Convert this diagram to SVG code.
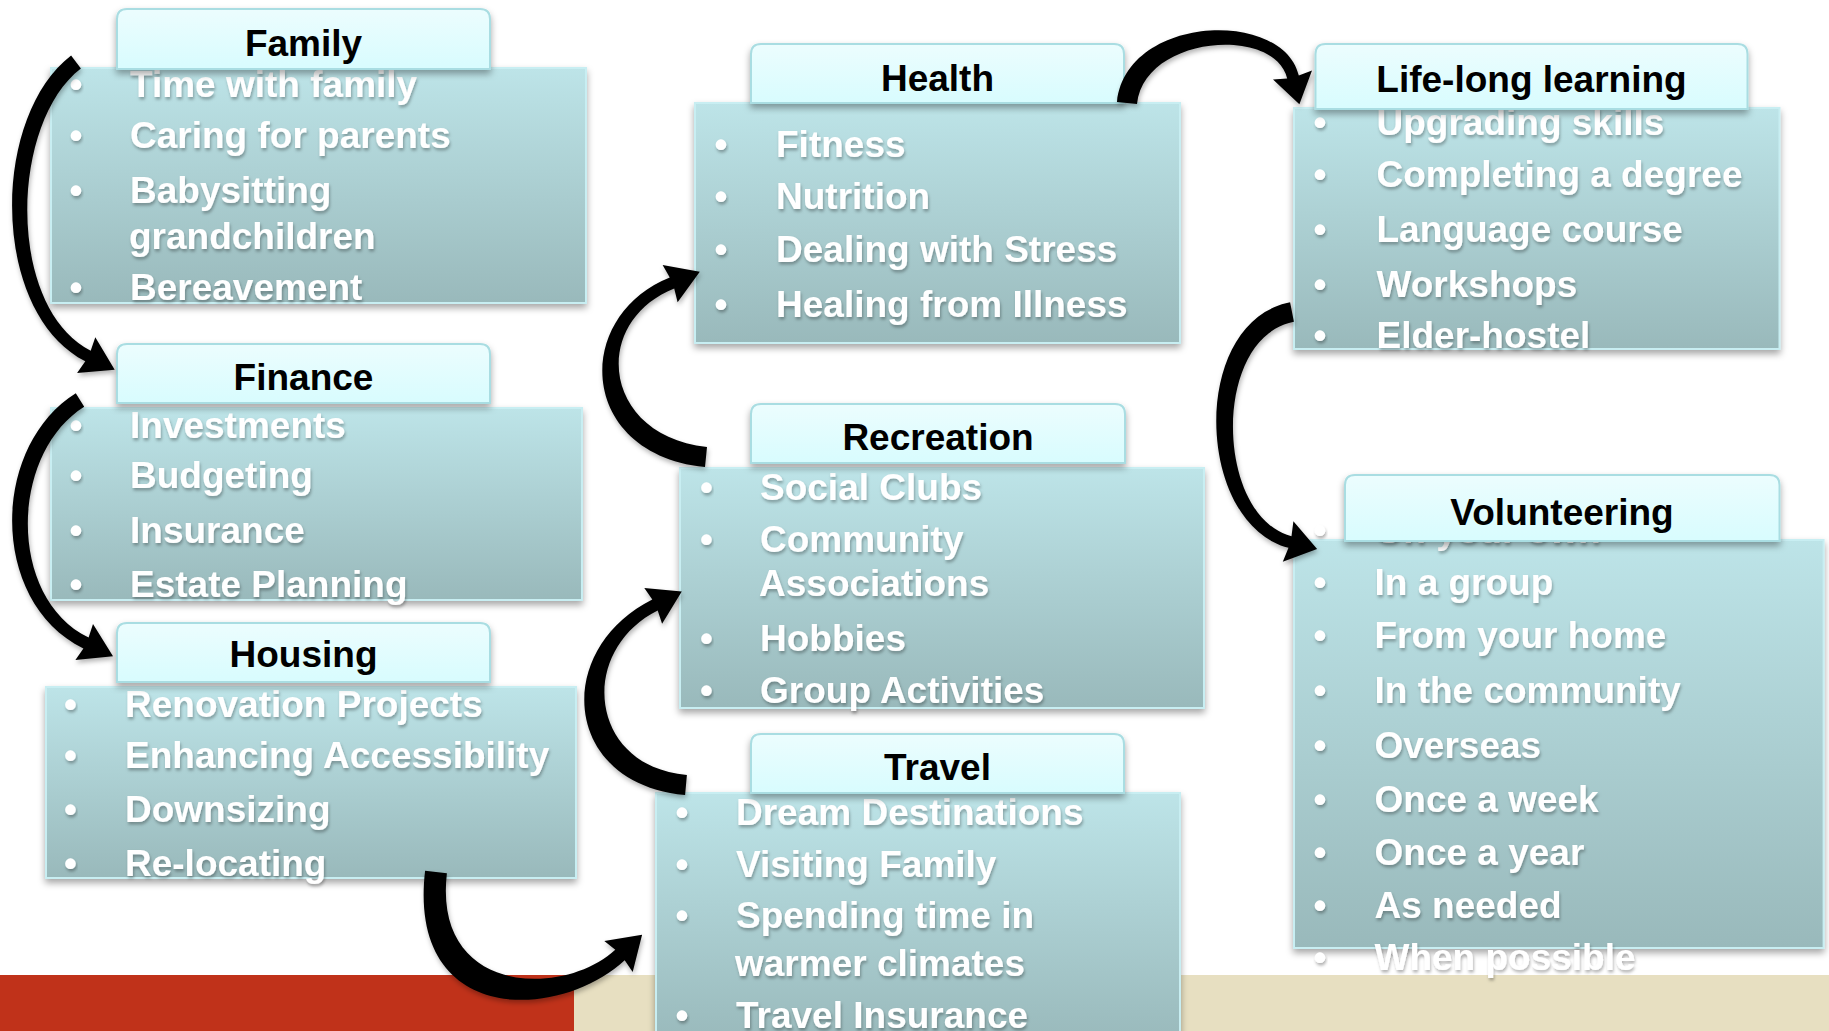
<svg xmlns="http://www.w3.org/2000/svg" width="1829" height="1031" viewBox="0 0 1829 1031">
  <style>
    .body { fill: url(#bodyFill); stroke: #c8eef2; stroke-width: 2; filter: url(#boxShadow); }
    .head { fill: url(#headFill); stroke: #a9dde2; stroke-width: 2; filter: url(#boxShadow); }
    .title { font-family: "Liberation Sans", Arial, sans-serif; font-weight: bold; font-size: 37px; fill: #000; text-anchor: middle; }
    .item { font-family: "Liberation Sans", Arial, sans-serif; font-weight: bold; font-size: 37px; fill: #fff; filter: url(#textShadow); }
    .dot { font-family: "Liberation Sans", Arial, sans-serif; font-weight: bold; font-size: 37px; fill: #fff; text-anchor: middle; filter: url(#textShadow); }
    .arc { fill: #000; stroke: none; filter: url(#arcShadow); }
  </style>
  <defs>
    <linearGradient id="bodyFill" x1="0" y1="0" x2="0" y2="1">
      <stop offset="0" stop-color="#bde4e8"/>
      <stop offset="1" stop-color="#99b9bb"/>
    </linearGradient>
    <linearGradient id="headFill" x1="0" y1="0" x2="0" y2="1">
      <stop offset="0" stop-color="#ecfdfe"/>
      <stop offset="1" stop-color="#d8fcfe"/>
    </linearGradient>
    <filter id="boxShadow" x="-10%" y="-10%" width="120%" height="130%">
      <feDropShadow dx="0" dy="4" stdDeviation="3.5" flood-color="#000" flood-opacity="0.35"/>
    </filter>
    <filter id="textShadow" x="-5%" y="-20%" width="110%" height="150%">
      <feDropShadow dx="1" dy="2.5" stdDeviation="1.5" flood-color="#000" flood-opacity="0.3"/>
    </filter>
    <filter id="arcShadow" x="-20%" y="-20%" width="140%" height="140%">
      <feDropShadow dx="1" dy="3" stdDeviation="2.5" flood-color="#000" flood-opacity="0.3"/>
    </filter>
  </defs>

  <rect width="1829" height="1031" fill="#fff"/>

  <!-- footer bands -->
  <rect x="0" y="975" width="574" height="56" fill="#c0321a"/>
  <rect x="574" y="975" width="1255" height="56" fill="#e7dfc1"/>

  <!-- Family -->
  <g id="family">
    <rect class="body" x="51" y="68" width="535" height="235"/>
    <text class="dot" x="76" y="97">•</text><text class="item" x="130" y="97">Time with family</text>
    <text class="dot" x="76" y="148">•</text><text class="item" x="130" y="148">Caring for parents</text>
    <text class="dot" x="76" y="203">•</text><text class="item" x="130" y="203">Babysitting</text>
    <text class="item" x="129" y="249">grandchildren</text>
    <text class="dot" x="76" y="300">•</text><text class="item" x="130" y="300">Bereavement</text>
    <path class="head" d="M117,69 V19 Q117,9 127,9 H480 Q490,9 490,19 V69 Z"/>
    <text class="title" x="303.5" y="56">Family</text>
  </g>

  <!-- Finance -->
  <g id="finance">
    <rect class="body" x="51" y="408" width="531" height="192"/>
    <text class="dot" x="76" y="438">•</text><text class="item" x="130" y="438">Investments</text>
    <text class="dot" x="76" y="488">•</text><text class="item" x="130" y="488">Budgeting</text>
    <text class="dot" x="76" y="543">•</text><text class="item" x="130" y="543">Insurance</text>
    <text class="dot" x="76" y="597">•</text><text class="item" x="130" y="597">Estate Planning</text>
    <path class="head" d="M117,403 V354 Q117,344 127,344 H480 Q490,344 490,354 V403 Z"/>
    <text class="title" x="303.5" y="390">Finance</text>
  </g>

  <!-- Housing -->
  <g id="housing">
    <rect class="body" x="46" y="687" width="530" height="191"/>
    <text class="dot" x="70.5" y="717">•</text><text class="item" x="125" y="717">Renovation Projects</text>
    <text class="dot" x="70.5" y="768">•</text><text class="item" x="125" y="768">Enhancing Accessibility</text>
    <text class="dot" x="70.5" y="822">•</text><text class="item" x="125" y="822">Downsizing</text>
    <text class="dot" x="70.5" y="876">•</text><text class="item" x="125" y="876">Re-locating</text>
    <path class="head" d="M117,682 V633 Q117,623 127,623 H480 Q490,623 490,633 V682 Z"/>
    <text class="title" x="303.5" y="667">Housing</text>
  </g>

  <!-- Health -->
  <g id="health">
    <rect class="body" x="695" y="103" width="485" height="240"/>
    <text class="dot" x="721" y="157">•</text><text class="item" x="776" y="157">Fitness</text>
    <text class="dot" x="721" y="209">•</text><text class="item" x="776" y="209">Nutrition</text>
    <text class="dot" x="721" y="262">•</text><text class="item" x="776" y="262">Dealing with Stress</text>
    <text class="dot" x="721" y="317">•</text><text class="item" x="776" y="317">Healing from Illness</text>
    <path class="head" d="M751,103 V54 Q751,44 761,44 H1114 Q1124,44 1124,54 V103 Z"/>
    <text class="title" x="937.5" y="91">Health</text>
  </g>

  <!-- Recreation -->
  <g id="recreation">
    <rect class="body" x="680" y="468" width="524" height="240"/>
    <text class="dot" x="706.5" y="500">•</text><text class="item" x="760" y="500">Social Clubs</text>
    <text class="dot" x="706.5" y="552">•</text><text class="item" x="760" y="552">Community</text>
    <text class="item" x="759" y="596">Associations</text>
    <text class="dot" x="706.5" y="651">•</text><text class="item" x="760" y="651">Hobbies</text>
    <text class="dot" x="706.5" y="703">•</text><text class="item" x="760" y="703">Group Activities</text>
    <path class="head" d="M751,463 V414 Q751,404 761,404 H1115 Q1125,404 1125,414 V463 Z"/>
    <text class="title" x="938" y="450">Recreation</text>
  </g>

  <!-- Travel -->
  <g id="travel">
    <rect class="body" x="656" y="793" width="524" height="250"/>
    <text class="dot" x="682" y="825">•</text><text class="item" x="736" y="825">Dream Destinations</text>
    <text class="dot" x="682" y="877">•</text><text class="item" x="736" y="877">Visiting Family</text>
    <text class="dot" x="682" y="928">•</text><text class="item" x="736" y="928">Spending time in</text>
    <text class="item" x="735" y="976">warmer climates</text>
    <text class="dot" x="682" y="1028">•</text><text class="item" x="736" y="1028">Travel Insurance</text>
    <path class="head" d="M751,793 V744 Q751,734 761,734 H1114 Q1124,734 1124,744 V793 Z"/>
    <text class="title" x="937.5" y="780">Travel</text>
  </g>

  <!-- Life-long learning -->
  <g id="learning">
    <rect class="body" x="1294" y="108" width="485.5" height="241"/>
    <text class="dot" x="1320" y="135">•</text><text class="item" x="1376.5" y="135">Upgrading skills</text>
    <text class="dot" x="1320" y="187">•</text><text class="item" x="1376.5" y="187">Completing a degree</text>
    <text class="dot" x="1320" y="242">•</text><text class="item" x="1376.5" y="242">Language course</text>
    <text class="dot" x="1320" y="297">•</text><text class="item" x="1376.5" y="297">Workshops</text>
    <text class="dot" x="1320" y="348">•</text><text class="item" x="1376.5" y="348">Elder-hostel</text>
    <path class="head" d="M1315.5,109 V54 Q1315.5,44 1325.5,44 H1737.5 Q1747.5,44 1747.5,54 V109 Z"/>
    <text class="title" x="1531.5" y="92">Life-long learning</text>
  </g>

  <!-- Volunteering -->
  <g id="volunteering">
    <rect class="body" x="1294" y="540" width="529.6" height="408"/>
    <text class="dot" x="1320" y="543">•</text><text class="item" x="1374.5" y="543">On your own</text>
    <text class="dot" x="1320" y="595">•</text><text class="item" x="1374.5" y="595">In a group</text>
    <text class="dot" x="1320" y="648">•</text><text class="item" x="1374.5" y="648">From your home</text>
    <text class="dot" x="1320" y="703">•</text><text class="item" x="1374.5" y="703">In the community</text>
    <text class="dot" x="1320" y="758">•</text><text class="item" x="1374.5" y="758">Overseas</text>
    <text class="dot" x="1320" y="812">•</text><text class="item" x="1374.5" y="812">Once a week</text>
    <text class="dot" x="1320" y="865">•</text><text class="item" x="1374.5" y="865">Once a year</text>
    <text class="dot" x="1320" y="918">•</text><text class="item" x="1374.5" y="918">As needed</text>
    <text class="dot" x="1320" y="970">•</text><text class="item" x="1374.5" y="970">When possible</text>
    <path class="head" d="M1345,541 V485 Q1345,475 1355,475 H1769.5 Q1779.5,475 1779.5,485 V541 Z"/>
    <text class="title" x="1562" y="525">Volunteering</text>
  </g>

  <!-- curved block arrows linking the topics: a tapering band plus a triangular head -->
  <g id="connectors">
    <path class="arc" d="M71.1,55.6 C-9.5,117.1 -10.1,312.5 85.3,361.3 L77.1,372.9 L114.7,369.7 L95.3,337.3 L90.7,350.7 C6.1,307.5 9.5,122.9 80.9,68.4 Z"/>
    <path class="arc" d="M75.8,393.2 C-9.8,446.7 -10.8,602.4 83.4,648.4 L75.4,660.1 L113,656.2 L93,624.1 L88.6,637.6 C6.8,597.6 9.8,453.3 84.2,406.8 Z"/>
    <path class="arc" d="M425.1,870.7 C407.2,1025.3 557.5,1021.8 624.7,960.2 L632.7,971.9 L642.1,934.7 L604.3,940.9 L615.3,949.8 C562.5,998.2 432.8,994.7 446.9,873.3 Z"/>
    <path class="arc" d="M685.1,795 C561.9,783.9 552.4,649.6 652.3,599.6 L644.3,588 L681.8,591.6 L662.1,623.8 L657.7,610.4 C577.6,650.5 588.1,766.1 686.9,775 Z"/>
    <path class="arc" d="M705,467 C577.4,453.8 572.3,316.6 669.8,277.4 L662.6,265.1 L699.8,271.8 L677.6,302.3 L674.2,288.6 C589.6,322.6 602.6,436.2 707,447 Z"/>
    <path class="arc" d="M1117,102 C1126,14.6 1283.1,8.4 1298.8,75.6 L1312,70.6 L1299.4,104.3 L1273,79.6 L1287.2,78.4 C1274.9,25.6 1144,35.4 1137,104 Z"/>
    <path class="arc" d="M1290.1,302.2 C1188.9,322 1195,523.6 1288.5,547.8 L1282.8,561.8 L1317.1,549 L1293.4,521.2 L1291.5,536.2 C1215,516.4 1211.1,338 1293.9,321.8 Z"/>
  </g>
</svg>
